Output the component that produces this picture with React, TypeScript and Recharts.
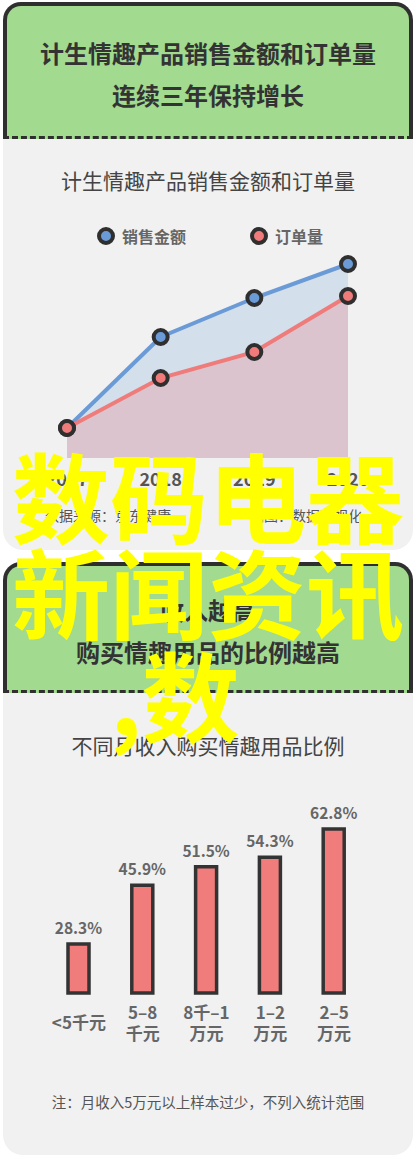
import React from 'react';
import { AreaChart, Area, XAxis, YAxis, BarChart, Bar, LabelList } from 'recharts';

const FONT = '"Noto Sans CJK SC", "Noto Sans", sans-serif';

// Chart 1 data
const years = ['2017', '2018', '2019', '2020'];
const salesAmount = [30, 121, 160, 194];
const orderCount = [30, 80, 106, 162];
const seriesNames = ['销售金额', '订单量'];
const seriesColors = ['#6b9bd7', '#ef7b7b'];
const areaFills = ['#d3dfeb', '#dbc4cd'];

// Chart 2 data
const incomeGroups = ['<5千元', '5–8千元', '8千–1万元', '1–2万元', '2–5万元'];
const incomeTickLines = [['<5千元'], ['5–8', '千元'], ['8千–1', '万元'], ['1–2', '万元'], ['2–5', '万元']];
const buyRatio = [28.3, 45.9, 51.5, 54.3, 62.8];

const lineData = years.map((y, i) => ({ year: y, sales: salesAmount[i], orders: orderCount[i] }));
const barData = incomeGroups.map((g, i) => ({ group: g, ratio: buyRatio[i] }));

const DARK = '#2f2f2f';

function Text({ top, left = 0, width = 416, size, weight = 400, color = '#444', children, align = 'center' as any, lh }: any) {
  const lineH = lh || Math.round(size * 1.4);
  return (
    <div
      style={{
        position: 'absolute',
        top: top - lineH / 2,
        left,
        width,
        textAlign: align,
        fontSize: size,
        fontWeight: weight,
        color,
        lineHeight: lineH + 'px',
        fontFamily: FONT,
        whiteSpace: 'nowrap',
      }}
    >
      {children}
    </div>
  );
}

function Card({ top, headerH, bottom }: any) {
  return (
    <>
      <div
        style={{
          position: 'absolute',
          left: 3,
          top: top + headerH - 10,
          width: 410,
          height: bottom - (top + headerH - 10),
          background: '#f1f1f1',
          borderRadius: '0 0 20px 20px',
        }}
      />
      <div
        style={{
          position: 'absolute',
          left: 3,
          top,
          width: 410,
          height: headerH,
          boxSizing: 'border-box',
          background: '#a2da8f',
          border: '4px solid ' + DARK,
          borderBottom: '3px dashed ' + DARK,
          borderRadius: '18px 18px 0 0',
        }}
      />
    </>
  );
}

const YearTick = (props: any) => {
  const { x, y, payload } = props;
  return (
    <text x={x} y={y + 20} textAnchor="middle" fontSize={18} fontWeight={700} fill="#555" fontFamily={FONT}>
      {payload.value}
    </text>
  );
};

const IncomeTick = (props: any) => {
  const { x, y, index } = props;
  const lines = incomeTickLines[index] || [];
  const startY = lines.length === 1 ? y + 28 : y + 18;
  return (
    <text x={x} y={startY} textAnchor="middle" fontSize={17} fontWeight={700} fill="#666" fontFamily={FONT}>
      {lines.map((l: string, i: number) => (
        <tspan key={i} x={x} y={startY + i * 21}>
          {l}
        </tspan>
      ))}
    </text>
  );
};

export default function App() {
  return (
    <div
      style={{
        position: 'absolute',
        left: 0,
        top: 0,
        width: 416,
        height: 1161,
        background: '#ffffff',
        overflow: 'hidden',
        fontFamily: FONT,
      }}
    >
      {/* Card 1 */}
      <Card top={2} headerH={137} bottom={550} />
      <Text top={53} size={24} weight={700} color="#333">计生情趣产品销售金额和订单量</Text>
      <Text top={95} size={24} weight={700} color="#333">连续三年保持增长</Text>
      <Text top={180} size={21} color="#444">计生情趣产品销售金额和订单量</Text>

      {/* Legend */}
      {seriesNames.map((n, i) => (
        <div
          key={n}
          style={{
            position: 'absolute',
            top: 236 - 12,
            left: i === 0 ? 95 : 248,
            height: 24,
            display: 'flex',
            alignItems: 'center',
            fontFamily: FONT,
            fontSize: 16,
            fontWeight: 700,
            color: '#666',
          }}
        >
          <svg width={22} height={22} style={{ marginRight: 5 }}>
            <circle cx={11} cy={11} r={7} fill={seriesColors[i]} stroke={DARK} strokeWidth={4} />
          </svg>
          {n}
        </div>
      ))}

      <div style={{ position: 'absolute', left: 0, top: 250 }}>
        <AreaChart width={416} height={248} data={lineData} margin={{ top: 8, right: 68, left: 67, bottom: 0 }}>
          <XAxis dataKey="year" axisLine={false} tickLine={false} height={40} tick={<YearTick />} interval={0} />
          <YAxis hide domain={[0, 200]} />
          <Area
            type="linear"
            dataKey="sales"
            stroke={seriesColors[0]}
            strokeWidth={4}
            fill={areaFills[0]}
            fillOpacity={1}
            dot={{ r: 7, fill: seriesColors[0], stroke: DARK, strokeWidth: 4 }}
            activeDot={false}
            isAnimationActive={false}
          />
          <Area
            type="linear"
            dataKey="orders"
            stroke={seriesColors[1]}
            strokeWidth={4}
            fill={areaFills[1]}
            fillOpacity={1}
            dot={{ r: 7, fill: seriesColors[1], stroke: DARK, strokeWidth: 4 }}
            activeDot={false}
            isAnimationActive={false}
          />
        </AreaChart>
      </div>

      <Text top={515} left={45} width={200} size={14} color="#555" align="left">数据来源：京东健康</Text>
      <Text top={515} left={250} width={120} size={14} color="#555" align="left">制图：数据可视化</Text>

      {/* Card 2 */}
      <Card top={562} headerH={131} bottom={1155} />
      <Text top={610} size={24} weight={700} color="#333">收入越高</Text>
      <Text top={652} size={24} weight={700} color="#333">购买情趣用品的比例越高</Text>
      <Text top={745} size={21} color="#444">不同月收入购买情趣用品比例</Text>

      <div style={{ position: 'absolute', left: 0, top: 785 }}>
        <BarChart width={416} height={278} data={barData} margin={{ top: 20, right: 50, left: 47, bottom: 0 }}>
          <XAxis dataKey="group" axisLine={false} tickLine={false} height={70} tick={<IncomeTick />} interval={0} />
          <YAxis hide domain={[13.6, 70]} />
          <Bar dataKey="ratio" fill="#f07c7c" stroke="#333" strokeWidth={3.5} barSize={21} isAnimationActive={false}>
            <LabelList
              dataKey="ratio"
              position="top"
              offset={10}
              formatter={(v: any) => `${v}%`}
              style={{ fontSize: 15.5, fontWeight: 700, fill: '#666', fontFamily: FONT }}
            />
          </Bar>
        </BarChart>
      </div>

      <Text top={1102} size={14.5} color="#555">注：月收入5万元以上样本过少，不列入统计范围</Text>

      {/* Yellow overlay text */}
      {[
        { t: '数码电器', top: 444, left: 12 },
        { t: '新闻资讯', top: 540, left: 12 },
        { t: ',数', top: 643, left: 110 },
      ].map((o) => (
        <div
          key={o.t}
          style={{
            position: 'absolute',
            top: o.top,
            left: o.left,
            fontSize: 98,
            lineHeight: '98px',
            fontWeight: 700,
            color: '#ffff00',
            fontFamily: FONT,
            whiteSpace: 'nowrap',
          }}
        >
          {o.t}
        </div>
      ))}
    </div>
  );
}
